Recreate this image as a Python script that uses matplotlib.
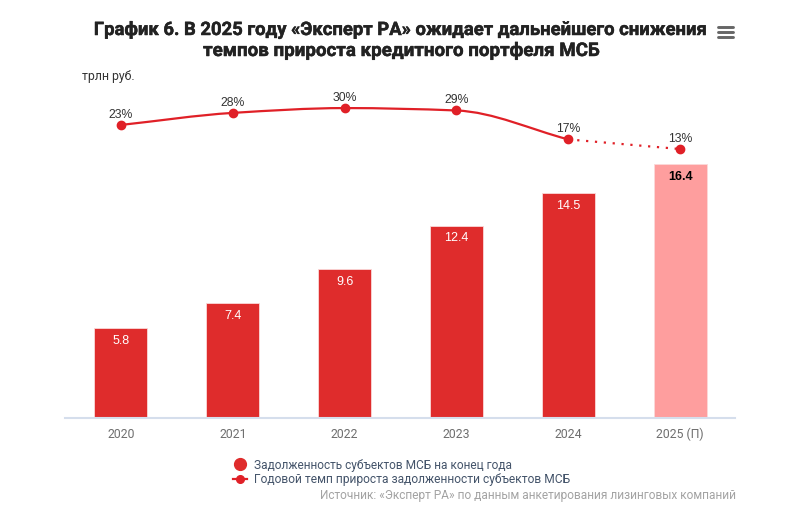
import matplotlib
matplotlib.use("Agg")
import matplotlib.pyplot as plt
import matplotlib.patheffects as pe
from matplotlib.lines import Line2D
from matplotlib.path import Path
from matplotlib.patches import PathPatch

plt.rcParams['font.family'] = ['Roboto', 'DejaVu Sans']

years = ['2020', '2021', '2022', '2023', '2024', '2025 (П)']
debt = [5.8, 7.4, 9.6, 12.4, 14.5, 16.4]
growth = [23, 28, 30, 29, 17, 13]

W, H = 800, 527
RED = '#df2c2c'
PINK = '#fe9e9e'
LINE_RED = '#e02027'


def monotone_path(xs, ys):
    # monotone cubic through the points, so no bump next to the flat part
    n = len(xs)
    slopes = [(ys[i + 1] - ys[i]) / (xs[i + 1] - xs[i]) for i in range(n - 1)]
    tang = [slopes[0]]
    for i in range(1, n - 1):
        a, b = slopes[i - 1], slopes[i]
        tang.append(0 if a * b <= 0 else 2 * a * b / (a + b))
    tang.append(slopes[-1])
    verts = [(xs[0], ys[0])]
    codes = [Path.MOVETO]
    for i in range(n - 1):
        h = (xs[i + 1] - xs[i]) / 3
        verts += [(xs[i] + h, ys[i] + tang[i] * h), (xs[i + 1] - h, ys[i + 1] - tang[i + 1] * h), (xs[i + 1], ys[i + 1])]
        codes += [Path.CURVE4] * 3
    return Path(verts, codes)


fig = plt.figure(figsize=(W / 100, H / 100), dpi=100)

# plot area in pixels: x 65..735, y 70..418
ax = fig.add_axes([65 / W, 1 - 418 / H, 670 / W, 348 / H])
xpos = list(range(len(years)))
colors = [RED] * 5 + [PINK]
ax.bar(xpos, debt, width=0.475, color=colors, edgecolor='#fbd9d9', linewidth=0.6, zorder=2)
ax.set_xlim(-0.5, 5.49)
ax.set_ylim(0, 22.47)
ax.set_yticks([])
ax.set_xticks(xpos)
ax.set_xticklabels(years, fontsize=8.8, color='#6e6e6e')
ax.tick_params(axis='x', length=0, pad=7)
for s in ['top', 'left', 'right']:
    ax.spines[s].set_visible(False)
ax.spines['bottom'].set_color('#d5deec')
ax.spines['bottom'].set_linewidth(1.5)

for i, v in enumerate(debt):
    last = i == len(debt) - 1
    ax.annotate(f'{v}', (i, v), xytext=(0, -9), textcoords='offset points', ha='center', va='center',
                fontsize=9, family='Liberation Sans', color='black' if last else 'white',
                fontweight='bold' if last else 'normal', zorder=4)

# growth line on its own scale
ax2 = ax.twinx()
ax2.set_ylim(-98.6, 45.8)
ax2.set_yticks([])
ax2.patch.set_visible(False)
for s in ax2.spines.values():
    s.set_visible(False)

solid = monotone_path(xpos[:5], growth[:5])
ax2.add_patch(PathPatch(solid, fill=False, edgecolor=LINE_RED, linewidth=1.6, zorder=3))
ax2.plot(xpos[4:], growth[4:], color=LINE_RED, linewidth=1.6, linestyle=(0, (1, 3)), zorder=3)
ax2.plot(xpos, growth, linestyle='none', marker='o', markersize=6, color=LINE_RED, zorder=4)
for x, g in zip(xpos, growth):
    ax2.annotate(f'{g}%', (x, g), xytext=(0, 7.4), textcoords='offset points', ha='center', va='center',
                 fontsize=8.8, family='Liberation Sans', color='#333333', zorder=5)

# title
heavy = [pe.withStroke(linewidth=0.35, foreground='#222222')]
fig.text(401 / W, 1 - 30 / H, 'График 6. В 2025 году «Эксперт РА» ожидает дальнейшего снижения',
         ha='center', va='center', fontsize=13.3, fontweight='bold', color='#222222', path_effects=heavy)
fig.text(401 / W, 1 - 51 / H, 'темпов прироста кредитного портфеля МСБ',
         ha='center', va='center', fontsize=13.5, fontweight='bold', color='#222222', path_effects=heavy)
fig.text(82 / W, 1 - 76 / H, 'трлн руб.', ha='left', va='center', fontsize=8.8, color='#333333')

# menu icon
for y in [27, 32, 37]:
    fig.add_artist(Line2D([718 / W, 733 / W], [1 - y / H, 1 - y / H], color='#666666', linewidth=2.1,
                          solid_capstyle='round'))

# legend
fig.add_artist(Line2D([240 / W], [1 - 464 / H], marker='o', markersize=8.5, color=RED, linestyle='none'))
fig.add_artist(Line2D([233 / W, 247 / W], [1 - 479 / H, 1 - 479 / H], color=LINE_RED, linewidth=1.6))
fig.add_artist(Line2D([240 / W], [1 - 479 / H], marker='o', markersize=5.5, color=LINE_RED, linestyle='none'))
fig.text(254 / W, 1 - 465 / H, 'Задолженность субъектов МСБ на конец года', ha='left', va='center',
         fontsize=8.6, color='#44546a')
fig.text(254 / W, 1 - 479 / H, 'Годовой темп прироста задолженности субъектов МСБ', ha='left', va='center',
         fontsize=8.65, color='#44546a')
fig.text(736 / W, 1 - 495 / H, 'Источник: «Эксперт РА» по данным анкетирования лизинговых компаний',
         ha='right', va='center', fontsize=8.6, color='#a3a3a3')

fig.savefig('out.png', dpi=100)
